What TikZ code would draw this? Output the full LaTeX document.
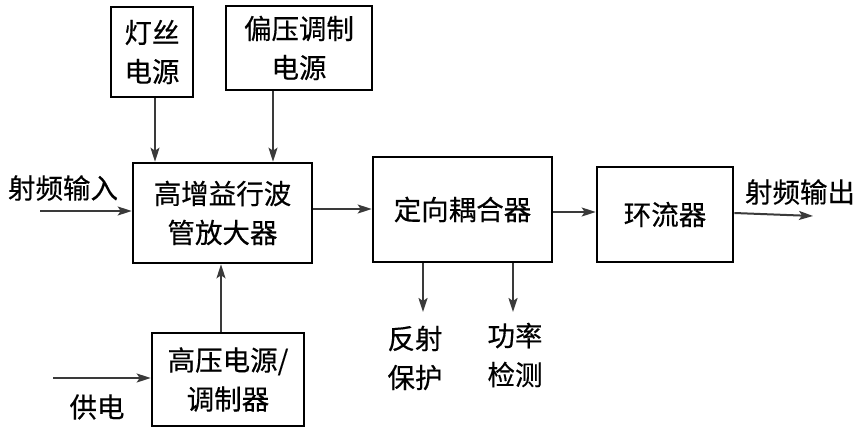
\documentclass[tikz,border=0pt]{standalone}
\usepackage{fontspec}
\newfontfamily\cjk[FakeBold=0.4]{Noto Sans CJK SC}
\usetikzlibrary{arrows.meta,calc}
\definecolor{ln}{HTML}{3A3A3A}
\tikzset{
  blk/.style={draw=black, line width=2.6pt, rectangle, inner sep=0pt, align=center,
    font=\cjk\fontsize{27.5}{39}\selectfont},
  lbl/.style={inner sep=0pt, align=center, font=\cjk\fontsize{27.5}{39}\selectfont},
  arr/.style={draw=ln, line width=2pt, -{Stealth[length=14pt,width=9pt,inset=3pt]}}
}
\begin{document}
\begin{tikzpicture}[x=1pt,y=-1pt]
\useasboundingbox (0,0) rectangle (865,431);
\node[blk, minimum width=82pt, minimum height=90pt] (fil) at (152,52) {灯丝\\电源};
\node[blk, minimum width=146pt, minimum height=84pt] (bias) at (299,48) {偏压调制\\电源};
\node[blk, minimum width=179pt, minimum height=100pt] (twt) at (222.5,213) {高增益行波\\管放大器};
\node[blk, minimum width=179pt, minimum height=105pt] (coup) at (462.5,209.5) {定向耦合器};
\node[blk, minimum width=136pt, minimum height=95pt] (circ) at (665,214.5) {环流器};
\node[blk, minimum width=152pt, minimum height=93pt] (hv) at (228,379.5) {高压电源/\\调制器};
\node[lbl] (rfin) at (63,188) {射频输入};
\node[lbl] (rfout) at (800,192) {射频输出};
\node[lbl] (gd) at (97,407) {供电};
\node[lbl] (fs) at (415,358) {反射\\保护};
\node[lbl] (gl) at (515,355) {功率\\检测};
\coordinate (inS) at (40,211);
\coordinate (outE) at (813,216);
\coordinate (gdS) at (53,378);
\coordinate (fsE) at (423,312);
\coordinate (glE) at (513,312);
\draw[arr] ([xshift=3pt]fil.south) -- ([xshift=3pt]fil.south |- twt.north);
\draw[arr] ([xshift=-26pt]bias.south) -- ([xshift=-26pt]bias.south |- twt.north);
\draw[arr] (inS) -- (inS -| twt.west);
\draw[arr] ([yshift=4pt]twt.east) -- ([yshift=4pt]twt.east -| coup.west);
\draw[arr] ([yshift=2.5pt]circ.west -| coup.east) -- ([yshift=2.5pt]circ.west);
\draw[arr] ([yshift=1.5pt]circ.east) -- (outE);
\draw[arr] ([xshift=-7pt]hv.north) -- ([xshift=-7pt]hv.north |- twt.south);
\draw[arr] (gdS) -- (gdS -| hv.west);
\draw[arr] (fsE |- coup.south) -- (fsE);
\draw[arr] (glE |- coup.south) -- (glE);
\end{tikzpicture}
\end{document}
